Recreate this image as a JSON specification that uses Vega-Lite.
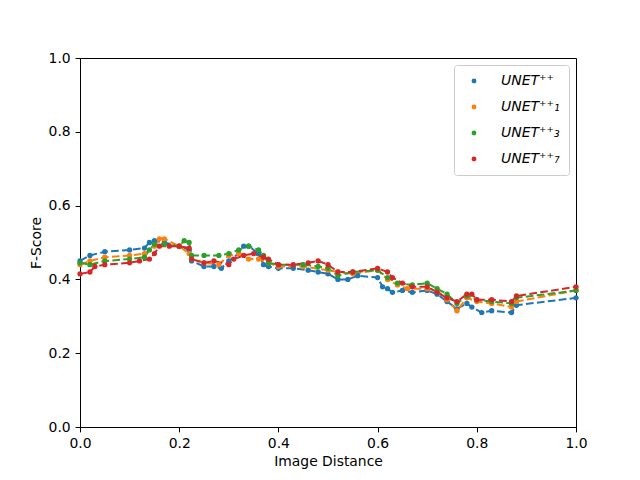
{
  "$schema": "https://vega.github.io/schema/vega-lite/v6.json",
  "width": 496,
  "height": 369,
  "autosize": "none",
  "padding": {"left": 80, "top": 58, "right": 64, "bottom": 53},
  "background": "white",
  "data": {
    "values": [
      {"s": "UNET⁺⁺", "x": 0.0, "y": 0.45}, {"s": "UNET⁺⁺", "x": 0.02, "y": 0.465}, {"s": "UNET⁺⁺", "x": 0.05, "y": 0.475},
      {"s": "UNET⁺⁺", "x": 0.1, "y": 0.48}, {"s": "UNET⁺⁺", "x": 0.13, "y": 0.485}, {"s": "UNET⁺⁺", "x": 0.14, "y": 0.5},
      {"s": "UNET⁺⁺", "x": 0.15, "y": 0.505}, {"s": "UNET⁺⁺", "x": 0.17, "y": 0.5}, {"s": "UNET⁺⁺", "x": 0.2, "y": 0.49},
      {"s": "UNET⁺⁺", "x": 0.22, "y": 0.48}, {"s": "UNET⁺⁺", "x": 0.225, "y": 0.45}, {"s": "UNET⁺⁺", "x": 0.25, "y": 0.435},
      {"s": "UNET⁺⁺", "x": 0.27, "y": 0.435}, {"s": "UNET⁺⁺", "x": 0.285, "y": 0.43}, {"s": "UNET⁺⁺", "x": 0.3, "y": 0.45},
      {"s": "UNET⁺⁺", "x": 0.32, "y": 0.47}, {"s": "UNET⁺⁺", "x": 0.33, "y": 0.49}, {"s": "UNET⁺⁺", "x": 0.34, "y": 0.49},
      {"s": "UNET⁺⁺", "x": 0.36, "y": 0.47}, {"s": "UNET⁺⁺", "x": 0.37, "y": 0.44}, {"s": "UNET⁺⁺", "x": 0.38, "y": 0.435},
      {"s": "UNET⁺⁺", "x": 0.4, "y": 0.43}, {"s": "UNET⁺⁺", "x": 0.43, "y": 0.43}, {"s": "UNET⁺⁺", "x": 0.46, "y": 0.425},
      {"s": "UNET⁺⁺", "x": 0.48, "y": 0.42}, {"s": "UNET⁺⁺", "x": 0.5, "y": 0.415}, {"s": "UNET⁺⁺", "x": 0.52, "y": 0.4},
      {"s": "UNET⁺⁺", "x": 0.54, "y": 0.4}, {"s": "UNET⁺⁺", "x": 0.56, "y": 0.41}, {"s": "UNET⁺⁺", "x": 0.6, "y": 0.405},
      {"s": "UNET⁺⁺", "x": 0.61, "y": 0.38}, {"s": "UNET⁺⁺", "x": 0.62, "y": 0.375}, {"s": "UNET⁺⁺", "x": 0.63, "y": 0.365},
      {"s": "UNET⁺⁺", "x": 0.65, "y": 0.37}, {"s": "UNET⁺⁺", "x": 0.67, "y": 0.365}, {"s": "UNET⁺⁺", "x": 0.7, "y": 0.37},
      {"s": "UNET⁺⁺", "x": 0.72, "y": 0.36}, {"s": "UNET⁺⁺", "x": 0.74, "y": 0.34}, {"s": "UNET⁺⁺", "x": 0.76, "y": 0.32},
      {"s": "UNET⁺⁺", "x": 0.78, "y": 0.335}, {"s": "UNET⁺⁺", "x": 0.79, "y": 0.325}, {"s": "UNET⁺⁺", "x": 0.81, "y": 0.31},
      {"s": "UNET⁺⁺", "x": 0.83, "y": 0.315}, {"s": "UNET⁺⁺", "x": 0.87, "y": 0.31}, {"s": "UNET⁺⁺", "x": 0.88, "y": 0.33},
      {"s": "UNET⁺⁺", "x": 1.0, "y": 0.35},

      {"s": "UNET⁺⁺₁", "x": 0.0, "y": 0.44}, {"s": "UNET⁺⁺₁", "x": 0.02, "y": 0.45}, {"s": "UNET⁺⁺₁", "x": 0.05, "y": 0.46},
      {"s": "UNET⁺⁺₁", "x": 0.1, "y": 0.465}, {"s": "UNET⁺⁺₁", "x": 0.13, "y": 0.47}, {"s": "UNET⁺⁺₁", "x": 0.15, "y": 0.49},
      {"s": "UNET⁺⁺₁", "x": 0.16, "y": 0.51}, {"s": "UNET⁺⁺₁", "x": 0.17, "y": 0.51}, {"s": "UNET⁺⁺₁", "x": 0.2, "y": 0.49},
      {"s": "UNET⁺⁺₁", "x": 0.22, "y": 0.47}, {"s": "UNET⁺⁺₁", "x": 0.225, "y": 0.455}, {"s": "UNET⁺⁺₁", "x": 0.25, "y": 0.445},
      {"s": "UNET⁺⁺₁", "x": 0.28, "y": 0.44}, {"s": "UNET⁺⁺₁", "x": 0.3, "y": 0.465}, {"s": "UNET⁺⁺₁", "x": 0.32, "y": 0.47},
      {"s": "UNET⁺⁺₁", "x": 0.34, "y": 0.455}, {"s": "UNET⁺⁺₁", "x": 0.36, "y": 0.455}, {"s": "UNET⁺⁺₁", "x": 0.38, "y": 0.445},
      {"s": "UNET⁺⁺₁", "x": 0.4, "y": 0.435}, {"s": "UNET⁺⁺₁", "x": 0.45, "y": 0.435}, {"s": "UNET⁺⁺₁", "x": 0.5, "y": 0.425},
      {"s": "UNET⁺⁺₁", "x": 0.52, "y": 0.42}, {"s": "UNET⁺⁺₁", "x": 0.55, "y": 0.415}, {"s": "UNET⁺⁺₁", "x": 0.6, "y": 0.425},
      {"s": "UNET⁺⁺₁", "x": 0.62, "y": 0.4}, {"s": "UNET⁺⁺₁", "x": 0.64, "y": 0.385}, {"s": "UNET⁺⁺₁", "x": 0.66, "y": 0.375},
      {"s": "UNET⁺⁺₁", "x": 0.7, "y": 0.375}, {"s": "UNET⁺⁺₁", "x": 0.72, "y": 0.37}, {"s": "UNET⁺⁺₁", "x": 0.74, "y": 0.345},
      {"s": "UNET⁺⁺₁", "x": 0.76, "y": 0.315}, {"s": "UNET⁺⁺₁", "x": 0.78, "y": 0.35}, {"s": "UNET⁺⁺₁", "x": 0.8, "y": 0.34},
      {"s": "UNET⁺⁺₁", "x": 0.83, "y": 0.335}, {"s": "UNET⁺⁺₁", "x": 0.87, "y": 0.325}, {"s": "UNET⁺⁺₁", "x": 0.88, "y": 0.34},
      {"s": "UNET⁺⁺₁", "x": 1.0, "y": 0.37},

      {"s": "UNET⁺⁺₃", "x": 0.0, "y": 0.445}, {"s": "UNET⁺⁺₃", "x": 0.02, "y": 0.44}, {"s": "UNET⁺⁺₃", "x": 0.05, "y": 0.45},
      {"s": "UNET⁺⁺₃", "x": 0.1, "y": 0.455}, {"s": "UNET⁺⁺₃", "x": 0.13, "y": 0.46}, {"s": "UNET⁺⁺₃", "x": 0.14, "y": 0.48},
      {"s": "UNET⁺⁺₃", "x": 0.15, "y": 0.495}, {"s": "UNET⁺⁺₃", "x": 0.17, "y": 0.495}, {"s": "UNET⁺⁺₃", "x": 0.2, "y": 0.49},
      {"s": "UNET⁺⁺₃", "x": 0.21, "y": 0.505}, {"s": "UNET⁺⁺₃", "x": 0.22, "y": 0.5}, {"s": "UNET⁺⁺₃", "x": 0.225, "y": 0.465},
      {"s": "UNET⁺⁺₃", "x": 0.25, "y": 0.465}, {"s": "UNET⁺⁺₃", "x": 0.28, "y": 0.465}, {"s": "UNET⁺⁺₃", "x": 0.3, "y": 0.47},
      {"s": "UNET⁺⁺₃", "x": 0.32, "y": 0.48}, {"s": "UNET⁺⁺₃", "x": 0.34, "y": 0.49}, {"s": "UNET⁺⁺₃", "x": 0.36, "y": 0.48},
      {"s": "UNET⁺⁺₃", "x": 0.37, "y": 0.465}, {"s": "UNET⁺⁺₃", "x": 0.38, "y": 0.445}, {"s": "UNET⁺⁺₃", "x": 0.4, "y": 0.44},
      {"s": "UNET⁺⁺₃", "x": 0.45, "y": 0.44}, {"s": "UNET⁺⁺₃", "x": 0.48, "y": 0.435}, {"s": "UNET⁺⁺₃", "x": 0.5, "y": 0.43},
      {"s": "UNET⁺⁺₃", "x": 0.52, "y": 0.41}, {"s": "UNET⁺⁺₃", "x": 0.55, "y": 0.42}, {"s": "UNET⁺⁺₃", "x": 0.6, "y": 0.425},
      {"s": "UNET⁺⁺₃", "x": 0.62, "y": 0.405}, {"s": "UNET⁺⁺₃", "x": 0.64, "y": 0.39}, {"s": "UNET⁺⁺₃", "x": 0.67, "y": 0.385},
      {"s": "UNET⁺⁺₃", "x": 0.7, "y": 0.39}, {"s": "UNET⁺⁺₃", "x": 0.72, "y": 0.375}, {"s": "UNET⁺⁺₃", "x": 0.74, "y": 0.36},
      {"s": "UNET⁺⁺₃", "x": 0.76, "y": 0.335}, {"s": "UNET⁺⁺₃", "x": 0.78, "y": 0.355}, {"s": "UNET⁺⁺₃", "x": 0.8, "y": 0.345},
      {"s": "UNET⁺⁺₃", "x": 0.83, "y": 0.34}, {"s": "UNET⁺⁺₃", "x": 0.87, "y": 0.335}, {"s": "UNET⁺⁺₃", "x": 0.88, "y": 0.35},
      {"s": "UNET⁺⁺₃", "x": 1.0, "y": 0.37},

      {"s": "UNET⁺⁺₇", "x": 0.0, "y": 0.415}, {"s": "UNET⁺⁺₇", "x": 0.02, "y": 0.42}, {"s": "UNET⁺⁺₇", "x": 0.03, "y": 0.435},
      {"s": "UNET⁺⁺₇", "x": 0.05, "y": 0.44}, {"s": "UNET⁺⁺₇", "x": 0.1, "y": 0.445}, {"s": "UNET⁺⁺₇", "x": 0.12, "y": 0.45},
      {"s": "UNET⁺⁺₇", "x": 0.14, "y": 0.455}, {"s": "UNET⁺⁺₇", "x": 0.15, "y": 0.47}, {"s": "UNET⁺⁺₇", "x": 0.16, "y": 0.49},
      {"s": "UNET⁺⁺₇", "x": 0.18, "y": 0.49}, {"s": "UNET⁺⁺₇", "x": 0.2, "y": 0.49}, {"s": "UNET⁺⁺₇", "x": 0.22, "y": 0.485},
      {"s": "UNET⁺⁺₇", "x": 0.225, "y": 0.455}, {"s": "UNET⁺⁺₇", "x": 0.25, "y": 0.445}, {"s": "UNET⁺⁺₇", "x": 0.27, "y": 0.45},
      {"s": "UNET⁺⁺₇", "x": 0.3, "y": 0.44}, {"s": "UNET⁺⁺₇", "x": 0.31, "y": 0.455}, {"s": "UNET⁺⁺₇", "x": 0.33, "y": 0.465},
      {"s": "UNET⁺⁺₇", "x": 0.35, "y": 0.47}, {"s": "UNET⁺⁺₇", "x": 0.37, "y": 0.46}, {"s": "UNET⁺⁺₇", "x": 0.38, "y": 0.455},
      {"s": "UNET⁺⁺₇", "x": 0.4, "y": 0.44}, {"s": "UNET⁺⁺₇", "x": 0.43, "y": 0.44}, {"s": "UNET⁺⁺₇", "x": 0.46, "y": 0.445},
      {"s": "UNET⁺⁺₇", "x": 0.48, "y": 0.45}, {"s": "UNET⁺⁺₇", "x": 0.5, "y": 0.44}, {"s": "UNET⁺⁺₇", "x": 0.52, "y": 0.42},
      {"s": "UNET⁺⁺₇", "x": 0.55, "y": 0.42}, {"s": "UNET⁺⁺₇", "x": 0.6, "y": 0.43}, {"s": "UNET⁺⁺₇", "x": 0.62, "y": 0.42},
      {"s": "UNET⁺⁺₇", "x": 0.63, "y": 0.405}, {"s": "UNET⁺⁺₇", "x": 0.65, "y": 0.39}, {"s": "UNET⁺⁺₇", "x": 0.67, "y": 0.38},
      {"s": "UNET⁺⁺₇", "x": 0.7, "y": 0.38}, {"s": "UNET⁺⁺₇", "x": 0.72, "y": 0.365}, {"s": "UNET⁺⁺₇", "x": 0.74, "y": 0.35},
      {"s": "UNET⁺⁺₇", "x": 0.76, "y": 0.34}, {"s": "UNET⁺⁺₇", "x": 0.78, "y": 0.36}, {"s": "UNET⁺⁺₇", "x": 0.79, "y": 0.36},
      {"s": "UNET⁺⁺₇", "x": 0.8, "y": 0.345}, {"s": "UNET⁺⁺₇", "x": 0.83, "y": 0.345}, {"s": "UNET⁺⁺₇", "x": 0.87, "y": 0.34},
      {"s": "UNET⁺⁺₇", "x": 0.88, "y": 0.355}, {"s": "UNET⁺⁺₇", "x": 1.0, "y": 0.38}
    ]
  },
  "encoding": {
    "x": {
      "field": "x", "type": "quantitative", "title": "Image Distance",
      "scale": {"domain": [0, 1], "nice": false, "zero": false},
      "axis": {"values": [0, 0.2, 0.4, 0.6, 0.8, 1.0], "format": ".1f", "labelFlush": false}
    },
    "y": {
      "field": "y", "type": "quantitative", "title": "F-Score",
      "scale": {"domain": [0, 1], "nice": false, "zero": false},
      "axis": {"values": [0, 0.2, 0.4, 0.6, 0.8, 1.0], "format": ".1f", "labelFlush": false}
    },
    "color": {
      "field": "s", "type": "nominal", "title": null,
      "scale": {
        "domain": ["UNET⁺⁺", "UNET⁺⁺₁", "UNET⁺⁺₃", "UNET⁺⁺₇"],
        "range": ["#1f77b4", "#ff7f0e", "#2ca02c", "#d62728"]
      },
      "legend": {
        "orient": "top-right", "offset": 7,
        "padding": 9, "cornerRadius": 3, "strokeColor": "#cccccc", "fillColor": "white",
        "symbolSize": 24, "symbolType": "circle", "symbolStrokeWidth": 0, "symbolOpacity": 1,
        "labelFontSize": 14, "labelFontStyle": "italic",
        "rowPadding": 12, "symbolOffset": 4, "labelOffset": 20, "labelLimit": 200,
        "labelFont": "DejaVu Sans", "labelColor": "black"
      }
    }
  },
  "layer": [
    {
      "mark": {"type": "line", "strokeDash": [7.7, 3.3], "strokeWidth": 2}
    },
    {
      "mark": {"type": "circle", "size": 28, "opacity": 1}
    }
  ],
  "config": {
    "font": "DejaVu Sans",
    "view": {"stroke": "black", "strokeWidth": 1},
    "axis": {
      "grid": false, "domainColor": "black", "tickColor": "black", "tickSize": 4.9,
      "labelFontSize": 13.9, "labelColor": "black", "labelFont": "DejaVu Sans",
      "titleFontSize": 13.9, "titleFontWeight": "normal", "titleColor": "black", "titleFont": "DejaVu Sans",
      "labelPadding": 4.9
    },
    "axisX": {"titlePadding": 4},
    "axisY": {"titlePadding": 5}
  }
}
